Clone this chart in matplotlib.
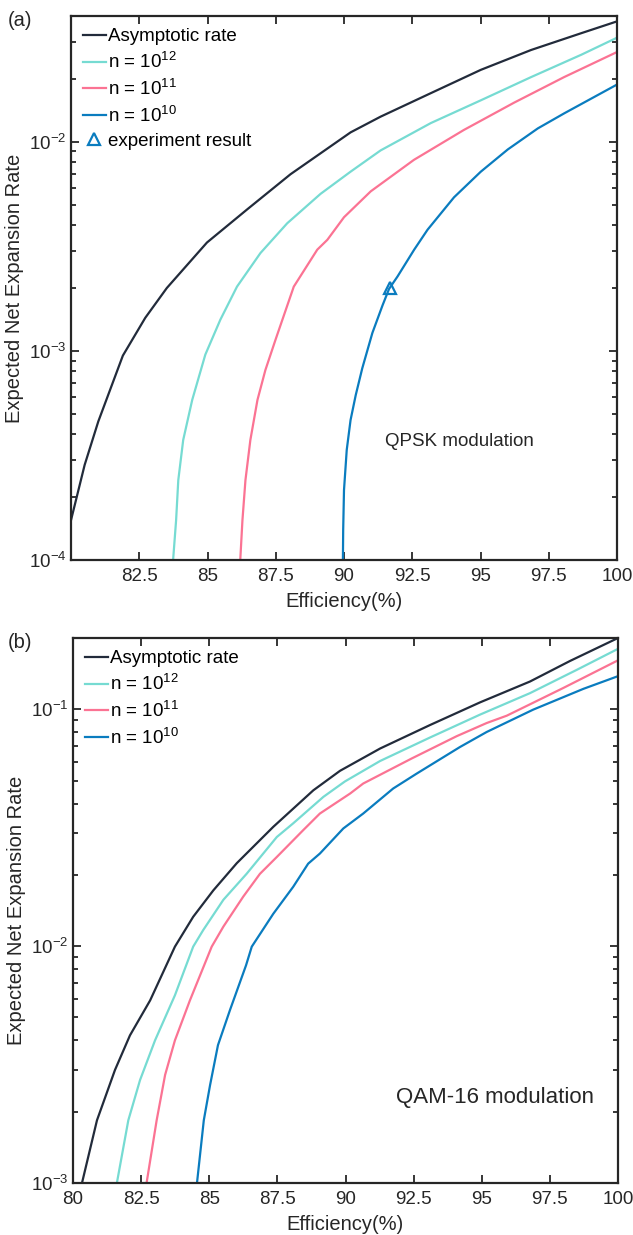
import matplotlib
matplotlib.use("Agg")
import matplotlib.pyplot as plt
from matplotlib.ticker import LogLocator, NullFormatter, FixedLocator, FixedFormatter

plt.rcParams['font.family'] = ['Liberation Sans', 'DejaVu Sans']
plt.rcParams['mathtext.fontset'] = 'custom'
plt.rcParams['mathtext.rm'] = 'Liberation Sans'
plt.rcParams['mathtext.it'] = 'Liberation Sans:italic'
plt.rcParams['mathtext.bf'] = 'Liberation Sans:bold'

# ---------------- Panel (a): QPSK ----------------
qpsk_asym_x = [80.0, 80.5, 81.0, 81.9, 82.72, 83.51, 84.98, 86.45, 88.04, 90.24, 91.34, 93.18, 95.01, 96.85, 98.69, 100.0]
qpsk_asym_y = [1.55e-4, 2.85e-4, 4.6e-4, 9.5e-4, 1.44e-3, 2.0e-3, 3.3e-3, 4.75e-3, 7.0e-3, 1.11e-2, 1.32e-2, 1.71e-2, 2.21e-2, 2.75e-2, 3.31e-2, 3.77e-2]

qpsk_n12_x = [83.74, 83.85, 83.93, 84.11, 84.44, 84.92, 85.47, 86.08, 86.94, 87.92, 89.14, 90.24, 91.34, 93.18, 95.01, 96.85, 98.69, 100.0]
qpsk_n12_y = [1.0e-4, 1.55e-4, 2.41e-4, 3.75e-4, 5.83e-4, 9.6e-4, 1.41e-3, 2.03e-3, 2.94e-3, 4.08e-3, 5.64e-3, 7.2e-3, 9.1e-3, 1.23e-2, 1.58e-2, 2.04e-2, 2.61e-2, 3.15e-2]

qpsk_n11_x = [86.2, 86.28, 86.39, 86.57, 86.83, 87.12, 87.49, 88.16, 89.02, 89.39, 90.0, 90.98, 92.56, 94.39, 96.23, 98.06, 100.0]
qpsk_n11_y = [1.0e-4, 1.55e-4, 2.41e-4, 3.75e-4, 5.83e-4, 8.1e-4, 1.13e-3, 2.03e-3, 3.05e-3, 3.4e-3, 4.36e-3, 5.8e-3, 8.2e-3, 1.14e-2, 1.54e-2, 2.04e-2, 2.69e-2]

qpsk_n10_x = [89.96, 89.97, 90.0, 90.1, 90.24, 90.43, 90.67, 91.04, 91.41, 91.65, 91.96, 92.57, 93.06, 94.03, 95.01, 96.0, 97.1, 98.07, 100.0]
qpsk_n10_y = [1.0e-4, 1.39e-4, 2.16e-4, 3.36e-4, 4.67e-4, 6.15e-4, 8.27e-4, 1.22e-3, 1.65e-3, 1.98e-3, 2.27e-3, 3.05e-3, 3.8e-3, 5.43e-3, 7.2e-3, 9.2e-3, 1.16e-2, 1.37e-2, 1.88e-2]

exp_x = [91.7]
exp_y = [2.0e-3]

# ---------------- Panel (b): QAM-16 ----------------
qam_asym_x = [80.33, 80.88, 81.54, 82.09, 82.83, 83.74, 84.41, 85.15, 86.01, 87.35, 88.82, 89.80, 91.27, 93.10, 94.94, 96.77, 98.24, 100.0]
qam_asym_y = [1.0e-3, 1.84e-3, 3.0e-3, 4.2e-3, 5.9e-3, 9.95e-3, 1.33e-2, 1.72e-2, 2.24e-2, 3.19e-2, 4.55e-2, 5.5e-2, 6.83e-2, 8.58e-2, 1.07e-1, 1.31e-1, 1.60e-1, 2.0e-1]

qam_n12_x = [81.61, 82.03, 82.46, 83.01, 83.74, 84.41, 84.78, 85.52, 86.37, 87.48, 88.08, 89.19, 89.98, 91.27, 93.10, 94.94, 96.77, 98.5, 100.0]
qam_n12_y = [1.0e-3, 1.84e-3, 2.72e-3, 4.0e-3, 6.2e-3, 9.95e-3, 1.17e-2, 1.57e-2, 2.02e-2, 2.89e-2, 3.3e-2, 4.27e-2, 4.96e-2, 6.05e-2, 7.6e-2, 9.5e-2, 1.17e-1, 1.47e-1, 1.8e-1]

qam_n11_x = [82.70, 83.07, 83.38, 83.74, 84.29, 85.09, 85.52, 86.25, 86.86, 87.48, 88.45, 89.06, 90.17, 90.65, 91.75, 92.43, 94.08, 95.18, 95.92, 97.99, 100.0]
qam_n11_y = [1.0e-3, 1.84e-3, 2.86e-3, 4.0e-3, 5.9e-3, 9.95e-3, 1.21e-2, 1.62e-2, 2.02e-2, 2.38e-2, 3.09e-2, 3.63e-2, 4.41e-2, 4.86e-2, 5.65e-2, 6.2e-2, 7.7e-2, 8.75e-2, 9.4e-2, 1.23e-1, 1.61e-1]

qam_n10_x = [84.55, 84.80, 85.03, 85.32, 85.76, 86.35, 86.56, 87.35, 88.08, 88.63, 89.06, 89.92, 90.65, 91.75, 92.61, 94.20, 95.18, 96.89, 98.73, 100.0]
qam_n10_y = [1.0e-3, 1.84e-3, 2.59e-3, 3.82e-3, 5.37e-3, 8.3e-3, 9.95e-3, 1.37e-2, 1.78e-2, 2.23e-2, 2.46e-2, 3.14e-2, 3.63e-2, 4.63e-2, 5.35e-2, 6.93e-2, 8.02e-2, 9.97e-2, 1.22e-1, 1.38e-1]

labels = ['Asymptotic rate', 'n = 10$^{12}$', 'n = 10$^{11}$', 'n = 10$^{10}$']
colors = ['#222b3b', '#76dbd2', '#fb7393', '#0a7cbf']

xticks_a = [82.5, 85, 87.5, 90, 92.5, 95, 97.5, 100]
xticks_b = [80, 82.5, 85, 87.5, 90, 92.5, 95, 97.5, 100]

FS = 13.5
LFS = 14.5
LW = 1.6
TXT = '#262626'

fig = plt.figure(figsize=(6.33, 12.35), dpi=100)
W, H = 633, 1235

def pos(l, t, r, b):
    return [l / W, 1 - b / H, (r - l) / W, (b - t) / H]

ax1 = fig.add_axes(pos(71, 16, 617, 560))
ax2 = fig.add_axes(pos(73, 638, 618, 1183))

def style(ax, xticks):
    ax.set_yscale('log')
    ax.xaxis.set_major_locator(FixedLocator(xticks))
    ax.xaxis.set_major_formatter(FixedFormatter([('%g' % v) for v in xticks]))
    ax.yaxis.set_major_locator(LogLocator(base=10, numticks=10))
    ax.yaxis.set_minor_locator(LogLocator(base=10, subs=range(2, 10), numticks=10))
    ax.yaxis.set_minor_formatter(NullFormatter())
    ax.tick_params(which='both', direction='in', top=True, right=True,
                   labelsize=FS, colors=TXT, width=1.3)
    ax.tick_params(axis='x', which='major', pad=6)
    ax.tick_params(which='major', length=6)
    ax.tick_params(which='minor', length=3.5)
    for s in ax.spines.values():
        s.set_linewidth(1.6)
        s.set_color(TXT)
    ax.set_xlabel('Efficiency(%)', fontsize=LFS, color=TXT, labelpad=5)
    ax.set_ylabel('Expected Net Expansion Rate', fontsize=LFS, color=TXT, labelpad=3)

leg_kw = dict(loc='upper left', frameon=False, fontsize=FS, handlelength=1.2,
              handletextpad=0.15, labelspacing=0.36, borderaxespad=0.3, borderpad=0.35)

# Panel (a)
series_a = [(qpsk_asym_x, qpsk_asym_y), (qpsk_n12_x, qpsk_n12_y), (qpsk_n11_x, qpsk_n11_y), (qpsk_n10_x, qpsk_n10_y)]
for (xs, ys), lab, c in zip(series_a, labels, colors):
    ax1.plot(xs, ys, color=c, lw=LW, label=lab)
ax1.plot(exp_x, exp_y, linestyle='none', marker='^', markersize=8, mfc='none',
         mec=colors[3], mew=1.6, label='experiment result')
style(ax1, xticks_a)
ax1.set_xlim(80, 100)
ax1.set_ylim(1e-4, 0.04)
ax1.legend(**leg_kw)
ax1.text(91.5, 3.7e-4, 'QPSK modulation', fontsize=FS, color=TXT, ha='left', va='center')
fig.text(8 / W, 1 - 20 / H, '(a)', fontsize=FS + 1, color=TXT, ha='left', va='center')

# Panel (b)
series_b = [(qam_asym_x, qam_asym_y), (qam_n12_x, qam_n12_y), (qam_n11_x, qam_n11_y), (qam_n10_x, qam_n10_y)]
for (xs, ys), lab, c in zip(series_b, labels, colors):
    ax2.plot(xs, ys, color=c, lw=LW, label=lab)
style(ax2, xticks_b)
ax2.set_xlim(80, 100)
ax2.set_ylim(1e-3, 0.2)
ax2.legend(**leg_kw)
ax2.text(91.85, 2.3e-3, 'QAM-16 modulation', fontsize=16, color=TXT, ha='left', va='center')
fig.text(8 / W, 1 - 642 / H, '(b)', fontsize=FS + 1, color=TXT, ha='left', va='center')

fig.savefig('out.png', dpi=100)
